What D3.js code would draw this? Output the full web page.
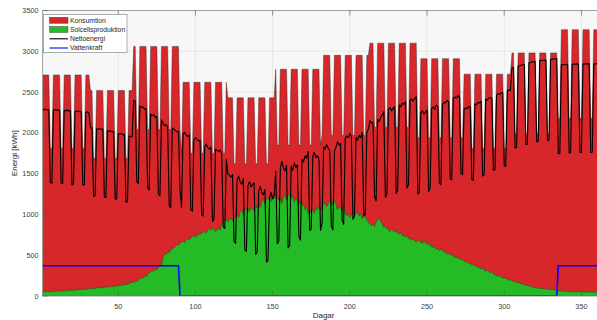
<!DOCTYPE html>
<html><head><meta charset="utf-8">
<script src="https://cdn.jsdelivr.net/npm/d3@7/dist/d3.min.js"></script>
<style>html,body{margin:0;padding:0;background:#fff;}svg{display:block;font-family:"Liberation Sans",Arial,Helvetica,sans-serif;}</style>
</head><body><svg id="c" width="597" height="320"></svg>
<script>
// ---- DATA (daily values, kWh) ----
const consumption = [
2710,2710,2710,2710,2710,1810,1810, 2710,2710,2710,2710,2710,1810,1810,
2710,2710,2710,2710,2710,1810,1810, 2710,2710,2710,2710,2710,1810,1810,
2710,2710,2710,2520,2520,1690,1690,
2520,2520,2520,2520,2520,1690,1690, 2520,2520,2520,2520,2520,1690,1690, 2520,2520,2520,2520,2520,1690,1690,
2520,2520,2520,3060,3060,2040,2040,
3060,3060,3060,3060,3060,2040,2040, 3060,3060,3060,3060,3060,2040,2040, 3060,3060,3060,3060,3060,2040,2040,
3060,3060,3060,3060,3060,2040,1750,
2620,2620,2620,2620,2620,1750,1750, 2620,2620,2620,2620,2620,1750,1750, 2620,2620,2620,2620,2620,1750,1750, 2620,2620,2620,2620,2620,1750,1750,
2620,2430,2430,2430,2430,1620,1620,
2430,2430,2430,2430,2430,1620,1620, 2430,2430,2430,2430,2430,1620,1620, 2430,2430,2430,2430,2430,1620,1620,
2430,2430,2430,2430,2780,1850,1850,
2780,2780,2780,2780,2780,1850,1850, 2780,2780,2780,2780,2780,1850,1850, 2780,2780,2780,2780,2780,1850,1850,
2780,2780,2780,2780,2780,1850,1970,
2950,2950,2950,2950,2950,1970,1970, 2950,2950,2950,2950,2950,1970,1970, 2950,2950,2950,2950,2950,1970,1970, 2950,2950,2950,2950,2950,1970,1970,
2950,2950,3100,3100,3100,2070,2070,
3100,3100,3100,3100,3100,2070,2070, 3100,3100,3100,3100,3100,2070,2070, 3100,3100,3100,3100,3100,2070,2070,
3100,3100,3100,3100,3100,1940,1940,
2910,2910,2910,2910,2910,1940,1940, 2910,2910,2910,2910,2910,1940,1940, 2910,2910,2910,2910,2910,1940,1940, 2910,2910,2910,2910,2910,1940,1940,
2720,2720,2720,2720,2720,1810,1810, 2720,2720,2720,2720,2720,1810,1810, 2720,2720,2720,2720,2720,1810,1810, 2720,2720,2720,2720,2720,1810,1810,
2720,2720,2720,2980,2980,1990,1990,
2980,2980,2980,2980,2980,1990,1990, 2980,2980,2980,2980,2980,1990,1990, 2980,2980,2980,2980,2980,1990,1990,
2980,2980,2980,2980,2980,2180,2180,
3265,3265,3265,3265,3265,2180,2180, 3265,3265,3265,3265,3265,2180,2180, 3265,3265,3265,3265,3265,2180,2180, 3265,3265,3265,3265,3265,2180,2180,
3265
];
const solar = [
52,58,49,61,55,47,57, 60,54,63,58,66,52,61, 64,70,59,72,68,75,66, 78,71,82,76,85,74,80,
88,83,95,90,86,97,92, 99,105,96,110,102,108,113, 106,118,112,121,115,124,119, 128,135,126,142,138,147,140,
152,160,171,165,184,178,196, 210,224,218,241,236,262,284, 296,310,302,331,322,352,368, 385,470,520,505,548,530,562,
575,590,610,632,620,648,660, 672,655,690,705,684,712,728, 745,720,738,760,752,771,780, 795,768,812,830,805,842,818,
790,812,835,806,870,905,920, 945,910,932,960,925,948,975, 1010,960,1035,1060,990,1048,1075, 1080,1030,1095,1060,1042,1110,1075,
1140,1085,1160,1190,1125,1205,1180, 1225,1160,1240,1195,1250,1210,1175, 1200,1130,1215,1245,1180,1260,1230, 1190,1240,1150,1205,1170,1120,1165,
1105,1135,1060,1090,1010,1045,1030, 1070,1015,1085,1060,1100,1045,1080, 1120,1150,1095,1135,1170,1110,1160, 1175,1125,1060,1100,1080,1040,1090,
1020,985,1010,960,995,1030,990, 1005,1040,980,1010,945,990,970, 940,905,880,865,890,850,905, 935,960,910,880,840,860,825,
815,790,830,800,780,810,770, 760,780,735,750,720,745,705, 700,685,710,675,660,690,670, 665,640,680,655,630,660,615,
610,590,625,570,585,555,575, 560,535,545,510,530,500,515, 490,470,485,455,470,440,450, 430,415,425,395,405,380,390,
365,375,345,355,330,340,315, 305,320,295,285,300,270,260, 255,240,250,230,225,215,220, 205,195,200,185,180,175,170,
162,158,150,145,140,132,128, 122,118,112,108,104,100,96, 94,90,92,86,88,84,82, 80,76,78,72,70,66,64,
60,58,62,56,54,57,52, 55,50,53,49,52,48,51, 50,47,52,46,49,51,48, 47,50,46,49,52,48,50,
51
];
const netEnergy = [
2288,2282,2291,2279,2285,1393,1383, 2280,2286,2277,2282,2274,1388,1379, 2276,2270,2281,2268,2272,1365,1374, 2262,2269,2258,2264,2255,1366,1360,
2252,2257,2245,2060,2064,1223,1228, 2051,2045,2054,2040,2048,1212,1207, 2030,2018,2024,2012,2020,1186,1191, 1990,1985,1992,1975,1980,1150,1160,
1960,1955,1950,2400,2385,1400,1380, 2330,2310,2320,2290,2300,1330,1300, 2230,2215,2220,2190,2200,1250,1230, 2160,2120,2090,2100,2070,1110,1080,
2060,2045,2030,2010,2020,1300,1090, 1990,2005,1970,1955,1976,1060,1040, 1915,1940,1922,1900,1908,990,980, 1835,1862,1818,1800,1825,915,940,
1800,1785,1770,1790,1750,845,830, 1675,1500,1480,1455,1490,672,645, 1420,1470,1395,1370,1440,572,545, 1350,1400,1335,1370,1388,510,545,
1290,1345,1270,1240,1305,415,440, 1205,1270,1190,1235,1530,640,675, 1580,1650,1565,1535,1600,590,620, 1590,1540,1630,1575,1610,730,685,
1675,1645,1720,1690,1770,805,820, 1710,1765,1695,1720,1680,805,890, 1830,1800,1855,1815,1780,860,810, 1775,1825,1890,1850,1870,930,880,
1930,1965,1940,1990,1955,940,980, 1945,1910,1970,1940,2005,980,1000, 2010,2045,2150,2120,2130,1220,1165, 2165,2140,2190,2220,2260,1210,1245,
2285,2310,2270,2300,2320,1260,1300, 2340,2320,2365,2350,2380,1325,1365, 2400,2415,2390,2425,2440,1250,1270, 2245,2270,2230,2255,2280,1280,1325,
2300,2320,2285,2340,2325,1385,1365, 2350,2375,2365,2400,2380,1440,1425, 2420,2440,2425,2455,2440,1500,1490, 2290,2305,2295,2325,2315,1430,1420,
2355,2345,2375,2365,2390,1470,1495, 2415,2400,2425,2435,2420,1540,1550, 2465,2480,2470,2490,2495,1595,1590, 2515,2525,2520,2795,2800,1815,1820,
2818,2822,2830,2835,2840,1858,1862, 2858,2862,2868,2872,2876,1890,1894, 2886,2890,2888,2894,2892,1906,1908, 2900,2904,2902,2908,2910,1744,1746,
2835,2837,2833,2839,2841,1753,1758, 2840,2845,2842,2846,2843,1762,1759, 2845,2848,2843,2849,2846,1759,1762, 2848,2845,2849,2846,2843,1762,1760,
2844
];
const hydroDays = [1, 89, 90, 334, 335, 365];
const hydroKWh  = [370, 370, 0, 0, 370, 370];
const xTicks = [50, 100, 150, 200, 250, 300, 350];
const yTicks = [0, 500, 1000, 1500, 2000, 2500, 3000, 3500];
const legendLabels = ["Konsumtion", "Solcellsproduktion", "Nettoenergi", "Vattenkraft"];
const xLabel = "Dagar", yLabel = "Energi [kWh]";

// ---- CHART ----
const svg = d3.select("#c");
const L = 42.6, R = 604.6, T = 10.5, B = 296;
const x = d3.scaleLinear().domain([1, 365]).range([L, R]);
const y = d3.scaleLinear().domain([0, 3500]).range([B, T]);
const days = consumption.map((_, i) => i + 1);

const COL_RED = "#d8272a", COL_GREEN = "#24bb26", COL_BLUE = "#0000ff";

svg.append("defs").append("clipPath").attr("id", "clip")
  .append("rect").attr("x", L).attr("y", T).attr("width", R - L).attr("height", B - T);

svg.append("rect").attr("x", L).attr("y", T).attr("width", R - L).attr("height", B - T).attr("fill", "#f7f7f7");

// grid
const grid = svg.append("g").attr("stroke", "#dedede").attr("stroke-width", 0.6);
xTicks.forEach(t => grid.append("line").attr("x1", x(t)).attr("x2", x(t)).attr("y1", T).attr("y2", B));
yTicks.forEach(t => grid.append("line").attr("x1", L).attr("x2", R).attr("y1", y(t)).attr("y2", y(t)));

const plot = svg.append("g").attr("clip-path", "url(#clip)");

const area = vals => d3.area().x((d, i) => x(days[i])).y0(y(0)).y1(d => y(d))(vals);
plot.append("path").attr("d", area(consumption)).attr("fill", COL_RED)
  .attr("stroke", "#222").attr("stroke-width", 0.5).attr("stroke-opacity", 0.8);
plot.append("path").attr("d", area(solar)).attr("fill", COL_GREEN)
  .attr("stroke", "#1c4a1c").attr("stroke-width", 0.5);

plot.append("path").attr("d", d3.line().x((d, i) => x(days[i])).y(d => y(d))(netEnergy))
  .attr("fill", "none").attr("stroke", "#000").attr("stroke-width", 1.1).attr("stroke-linejoin", "round");

plot.append("path").attr("d", d3.line().x((d, i) => x(hydroDays[i])).y(d => y(d))(hydroKWh))
  .attr("fill", "none").attr("stroke", COL_BLUE).attr("stroke-width", 1.6);

// axes box
const ax = svg.append("g").attr("stroke", "#8a8a8a").attr("stroke-width", 0.8).attr("fill", "none");
ax.append("line").attr("x1", L).attr("x2", L).attr("y1", T).attr("y2", B);
ax.append("line").attr("x1", L).attr("x2", 597).attr("y1", T).attr("y2", T);
ax.append("line").attr("x1", L).attr("x2", 597).attr("y1", B).attr("y2", B);

// ticks (inward, MATLAB style)
const tk = svg.append("g").attr("stroke", "#555").attr("stroke-width", 0.6);
xTicks.forEach(t => {
  tk.append("line").attr("x1", x(t)).attr("x2", x(t)).attr("y1", B).attr("y2", B - 5);
  tk.append("line").attr("x1", x(t)).attr("x2", x(t)).attr("y1", T).attr("y2", T + 5);
});
yTicks.forEach(t => tk.append("line").attr("x1", L).attr("x2", L + 5).attr("y1", y(t)).attr("y2", y(t)));

const lab = svg.append("g").attr("fill", "#404040").attr("font-size", 7.3);
xTicks.forEach(t => lab.append("text").attr("x", x(t)).attr("y", B + 12.5).attr("text-anchor", "middle").text(t));
yTicks.forEach(t => lab.append("text").attr("x", L - 4).attr("y", y(t) + 2.6).attr("text-anchor", "end").text(t));

svg.append("text").attr("x", (L + R) / 2).attr("y", 318).attr("text-anchor", "middle")
  .attr("font-size", 8).attr("fill", "#262626").text(xLabel);
svg.append("text").attr("transform", `translate(17,${(T + B) / 2}) rotate(-90)`).attr("text-anchor", "middle")
  .attr("font-size", 8).attr("fill", "#262626").text(yLabel);

// legend
const lg = svg.append("g");
lg.append("rect").attr("x", 43.5).attr("y", 14.5).attr("width", 83.5).attr("height", 38)
  .attr("fill", "#fff").attr("stroke", "#8a8a8a").attr("stroke-width", 0.7);
const rowsY = [20.3, 29.5, 38.8, 48];
lg.append("rect").attr("x", 49.5).attr("y", rowsY[0] - 3).attr("width", 18.5).attr("height", 6)
  .attr("fill", COL_RED).attr("stroke", "#333").attr("stroke-width", 0.4);
lg.append("rect").attr("x", 49.5).attr("y", rowsY[1] - 3).attr("width", 18.5).attr("height", 6)
  .attr("fill", COL_GREEN).attr("stroke", "#333").attr("stroke-width", 0.4);
lg.append("line").attr("x1", 49.5).attr("x2", 68).attr("y1", rowsY[2]).attr("y2", rowsY[2])
  .attr("stroke", "#000").attr("stroke-width", 1.1);
lg.append("line").attr("x1", 49.5).attr("x2", 68).attr("y1", rowsY[3]).attr("y2", rowsY[3])
  .attr("stroke", COL_BLUE).attr("stroke-width", 1.1);
legendLabels.forEach((s, i) => lg.append("text").attr("x", 70).attr("y", rowsY[i] + 2.4)
  .attr("font-size", 6.8).attr("fill", "#262626").text(s));
</script></body></html>
